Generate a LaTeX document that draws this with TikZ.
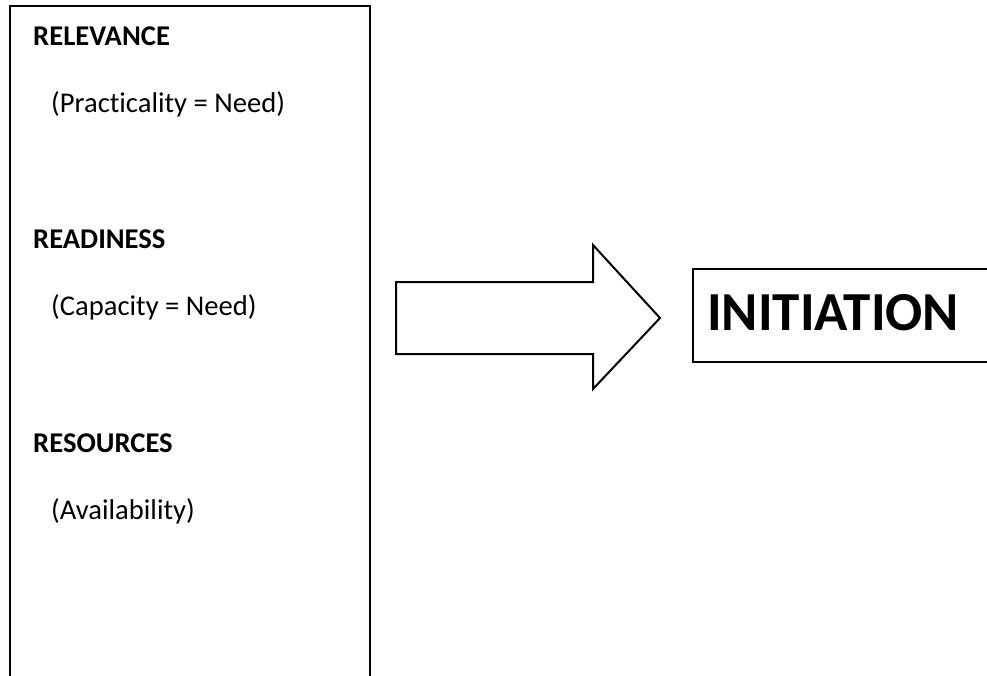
\documentclass[tikz,border=0pt]{standalone}
\usepackage{fontspec}
\setmainfont{Carlito}[Ligatures=NoCommon]
\begin{document}
\begin{tikzpicture}[x=1pt,y=-1pt,
  frame/.style={draw=black,line width=2pt,fill=white},
  head/.style={anchor=base west,inner sep=0pt,font=\fontsize{28.6}{34}\selectfont\bfseries},
  sub/.style={anchor=base west,inner sep=0pt,font=\fontsize{28.6}{34}\selectfont},
  big/.style={anchor=base west,inner sep=0pt,font=\fontsize{55}{62}\selectfont\bfseries}]
  \useasboundingbox (0,0) rectangle (987,675);
  \clip (0,0) rectangle (987,675);

  % factor panel, its lower edge runs off the page
  \draw[frame] (10,6) rectangle (370,720);
  \node[head] (relevance) at (33,45) {RELEVANCE};
  \node[sub]  (practical) at (51,112) {(Practicality = Need)};
  \node[head] (readiness) at (33,248) {READINESS};
  \node[sub]  (capacity)  at (51,315) {(Capacity = Need)};
  \node[head] (resources) at (33,452) {RESOURCES};
  \node[sub]  (avail)     at (51,519) {(Availability)};

  % block arrow
  \coordinate (tail) at (396,318);
  \coordinate (tip)  at (660,318);
  \draw[frame,line join=miter]
    (396,282) -- (593,282) -- (593,245) -- (tip) -- (593,389)
    -- (593,354) -- (396,354) -- cycle;

  % outcome box, its right edge runs off the page
  \draw[frame] (693,269) rectangle (1020,362);
  \node[big] (initiation) at (707,330) {INITIATION};
\end{tikzpicture}
\end{document}
